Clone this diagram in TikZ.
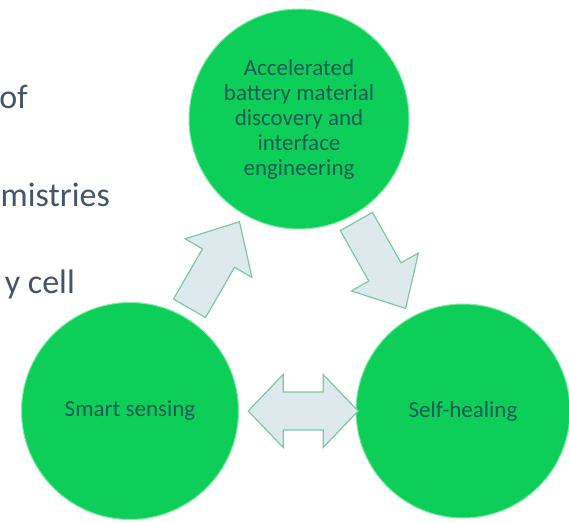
\documentclass[tikz,border=0pt]{standalone}
\usepackage{fontspec}
\setmainfont{Carlito}
\usetikzlibrary{calc}
\definecolor{bubblegreen}{RGB}{14,206,90}
\definecolor{bubbleedge}{RGB}{130,236,165}
\definecolor{bubbletext}{RGB}{18,92,82}
\definecolor{arrowfill}{RGB}{221,233,236}
\definecolor{arrowedge}{RGB}{125,200,165}
\definecolor{slidetext}{RGB}{68,84,106}
\tikzset{
	bubble/.style={circle, fill=bubblegreen, draw=bubbleedge, line width=1pt, inner sep=0pt,
		text=bubbletext, align=center, font=\fontsize{23}{25}\selectfont},
	slideline/.style={anchor=base east, inner sep=0pt, text=slidetext, font=\fontsize{34}{41}\selectfont},
	blockarrow/.style={fill=arrowfill, draw=arrowedge, line width=1.2pt, line join=miter}
}
\def\onewayarrow[#1](#2)(#3){\begin{scope}[shift={(#2)}, rotate=#3]
	\draw[#1] (-50, -18.5) -- (8, -18.5) -- (8, -38.5) -- (50, 0) -- (8, 38.5) -- (8, 18.5) -- (-50, 18.5) -- cycle;
\end{scope}}
\def\twowayarrow[#1](#2)(#3){\begin{scope}[shift={(#2)}, rotate=#3]
	\draw[#1] (-55, 0) -- (-20, 36.5) -- (-20, 19) -- (20, 19) -- (20, 36.5) -- (55, 0)
		-- (20, -36.5) -- (20, -19) -- (-20, -19) -- (-20, -36.5) -- cycle;
\end{scope}}

\begin{document}
\begin{tikzpicture}[x=1pt, y=1pt]
		%%%%% START %%%%%
		\useasboundingbox (0, 0) rectangle (569, 522);
		
		\node[slideline] (of) at (28, 413) {of};
		\node[slideline, anchor=base west] (chem) at (0.5, 315) {mistries};
		\node[slideline] (cell) at (75, 228) {y cell};
		
		\node[bubble, minimum size=220pt] (mat) at (299, 403) {Accelerated\\battery material\\discovery and\\interface\\engineering};
		\node[bubble, minimum size=217pt] (sense) at (130, 111) {Smart sensing};
		\node[bubble, minimum size=214pt] (heal) at (463, 111) {Self-healing};
		
		\coordinate (up) at ($(sense)!0.5!(mat)$);
		\coordinate (down) at ($(mat)!0.5!(heal)$);
		\coordinate (across) at ($(sense)!0.52!(heal)$);
		
		\onewayarrow[blockarrow](up)(60);
		\onewayarrow[blockarrow](down)(-60.5);
		\twowayarrow[blockarrow](across)(0);
		
		%%%%% END %%%%%
\end{tikzpicture}
\end{document}
